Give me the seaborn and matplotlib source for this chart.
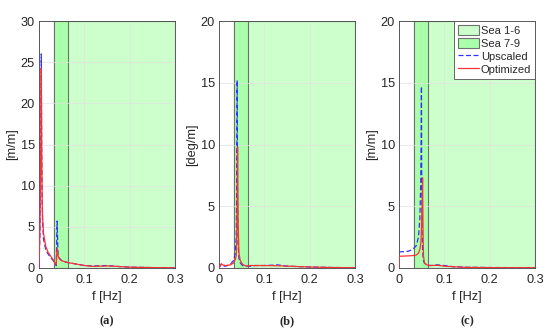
import matplotlib
matplotlib.use('Agg')
import matplotlib.pyplot as plt
import matplotlib.patches as mpatches
import matplotlib.lines as mlines
import seaborn as sns

sns.set_theme(style="whitegrid")
plt.rcParams['font.family'] = ['Liberation Sans', 'DejaVu Sans']

# ─── DATA ───────────────────────────────────────────────────────────────────
# Panel (a)
F_A = [0, 0.002, 0.004, 0.005, 0.006, 0.007, 0.008, 0.010, 0.015, 0.020, 0.025,
       0.030, 0.035, 0.038, 0.040, 0.042, 0.045, 0.050, 0.060, 0.080, 0.100,
       0.120, 0.150, 0.170, 0.200, 0.250, 0.300]
UP_A = [0, 4.0, 16.0, 26.0, 14.0, 8.0, 5.5, 3.5, 2.2, 1.7, 1.3,
        1.0, 0.6, 0.3, 5.7, 1.6, 1.2, 0.9, 0.7, 0.5, 0.3,
        0.25, 0.3, 0.2, 0.1, 0.05, 0.02]
OPT_A = [0, 5.0, 15.0, 24.2, 14.0, 8.0, 6.0, 4.2, 2.6, 1.9, 1.5,
         1.1, 0.7, 0.4, 2.4, 1.5, 1.1, 0.9, 0.7, 0.5, 0.3,
         0.2, 0.25, 0.2, 0.1, 0.05, 0.02]

# Panel (b)
F_B = [0, 0.005, 0.008, 0.015, 0.025, 0.032, 0.036, 0.038, 0.039, 0.040, 0.041,
       0.042, 0.044, 0.047, 0.052, 0.060, 0.070, 0.080, 0.100, 0.130, 0.150,
       0.200, 0.250, 0.300]
UP_B = [0, 0.3, 0.15, 0.15, 0.3, 0.6, 1.2, 2.5, 6.0, 15.2, 6.0,
        2.0, 0.8, 0.4, 0.2, 0.15, 0.15, 0.2, 0.2, 0.25, 0.15,
        0.08, 0.04, 0.02]
OPT_B = [0, 0.35, 0.25, 0.2, 0.25, 0.4, 0.7, 1.0, 2.0, 5.0, 9.8,
         4.0, 1.2, 0.6, 0.3, 0.15, 0.2, 0.2, 0.2, 0.18, 0.15,
         0.08, 0.04, 0.02]

# Panel (c)
F_C = [0, 0.0005, 0.020, 0.030, 0.038, 0.043, 0.046, 0.048, 0.049, 0.0495, 0.050,
       0.051, 0.052, 0.053, 0.054, 0.056, 0.062, 0.070, 0.085, 0.100, 0.120,
       0.150, 0.200, 0.300]
UP_C = [1.3, 1.3, 1.35, 1.5, 1.8, 2.5, 4.0, 7.0, 11.0, 14.7, 8.0,
        3.0, 1.5, 1.0, 0.6, 0.4, 0.2, 0.2, 0.25, 0.2, 0.1,
        0.06, 0.04, 0.02]
OPT_C = [0, 0.95, 0.98, 1.0, 1.05, 1.2, 1.5, 2.0, 2.5, 3.2, 4.0,
         5.0, 7.3, 3.0, 1.0, 0.4, 0.25, 0.2, 0.22, 0.15, 0.1,
         0.05, 0.03, 0.02]

SEA_16 = (0.033, 0.3)
SEA_79 = (0.033, 0.065)

PANELS = [
    (F_A, UP_A, OPT_A, 30, [0, 5, 10, 15, 20, 25, 30], '[m/m]', '(a)'),
    (F_B, UP_B, OPT_B, 20, [0, 5, 10, 15, 20], '[deg/m]', '(b)'),
    (F_C, UP_C, OPT_C, 20, [0, 5, 10, 15, 20], '[m/m]', '(c)'),
]

LIGHT = '#ccffcc'
DARK = '#aaffaa'
EDGE = '#707070'
BLUE = '#3030ff'
RED = '#ff3030'

fig = plt.figure(figsize=(5.5, 3.35), dpi=100)
lefts = [39 / 550, 219 / 550, 399 / 550]
w = 136 / 550
b = 67 / 335
h = 247 / 335

for i, (f, up, opt, ymax, yt, ylab, cap) in enumerate(PANELS):
    ax = fig.add_axes([lefts[i], b, w, h])
    ax.set_facecolor('white')
    ax.axvspan(*SEA_16, facecolor=LIGHT, edgecolor=EDGE, lw=0.8, zorder=0.3)
    ax.axvspan(*SEA_79, facecolor=DARK, edgecolor=EDGE, lw=0.8, zorder=0.35)
    sns.lineplot(x=f, y=up, ax=ax, color=BLUE, lw=0.9,
                 linestyle=(0, (4, 2)), zorder=3)
    sns.lineplot(x=f, y=opt, ax=ax, color=RED, lw=0.9, zorder=4)
    ax.set_xlim(0, 0.3)
    ax.set_ylim(0, ymax)
    ax.set_xticks([0, 0.1, 0.2, 0.3])
    ax.set_xticklabels(['0', '0.1', '0.2', '0.3'])
    ax.set_yticks(yt)
    ax.set_axisbelow(True)
    ax.grid(True, color='#e2e2e2', lw=0.5, zorder=0.5)
    for s in ax.spines.values():
        s.set_color('#404040')
        s.set_linewidth(0.6)
    ax.tick_params(direction='in', length=2.5, width=0.6, colors='#262626',
                   labelsize=9.2)
    ax.tick_params(axis='x', pad=4.5)
    ax.tick_params(axis='y', pad=3)
    ax.set_xlabel('f [Hz]', fontsize=9.2, color='#262626', labelpad=3.5)
    ax.set_ylabel(ylab, fontsize=9.2, color='#262626', labelpad=2)
    fig.text(lefts[i] + w / 2, 14 / 335, cap, ha='center', va='center',
             fontsize=9, fontweight='bold', family=['Liberation Serif'])

    if i == 2:
        handles = [
            mpatches.Patch(facecolor=LIGHT, edgecolor=EDGE, lw=0.8, label='Sea 1-6'),
            mpatches.Patch(facecolor=DARK, edgecolor=EDGE, lw=0.8, label='Sea 7-9'),
            mlines.Line2D([], [], color=BLUE, lw=0.9, linestyle=(0, (4, 2)), label='Upscaled'),
            mlines.Line2D([], [], color=RED, lw=0.9, label='Optimized'),
        ]
        leg = ax.legend(handles=handles, loc='upper right', fontsize=8,
                        fancybox=False, framealpha=1, edgecolor='#505050',
                        borderaxespad=0, handlelength=1.9, handleheight=1.0,
                        handletextpad=0.15, labelspacing=0.2, borderpad=0.35)
        leg.get_frame().set_linewidth(0.6)
        leg.set_zorder(10)

plt.savefig('out.png', dpi=100)
